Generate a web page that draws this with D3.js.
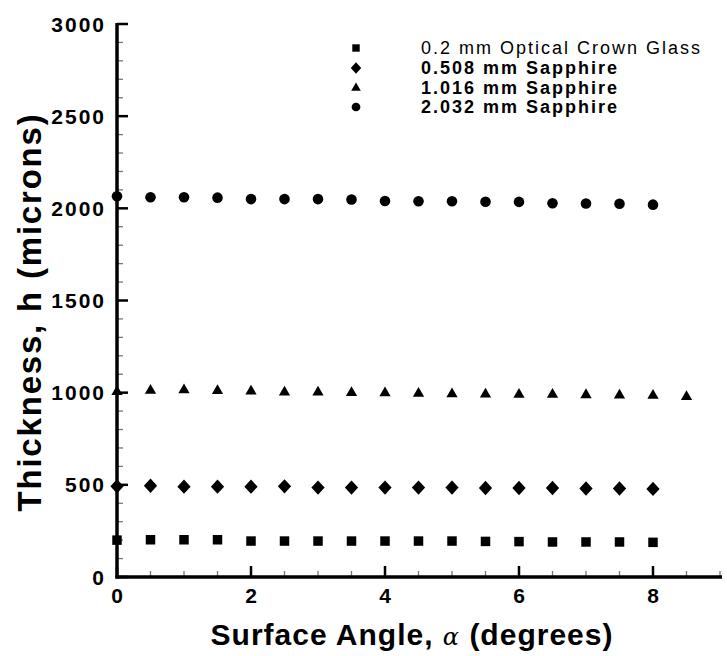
<!DOCTYPE html>
<html>
<head>
<meta charset="utf-8">
<script src="https://cdn.jsdelivr.net/npm/d3@7"></script>
<style>
  html, body { margin: 0; padding: 0; background: #fff; }
  svg { display: block; }
  text { font-family: "Liberation Sans", Arial, Helvetica, sans-serif; fill: #000; }
</style>
</head>
<body>
<svg id="chart" width="727" height="656"></svg>
<script>
// ---------- data ----------
const angles = [0, 0.5, 1, 1.5, 2, 2.5, 3, 3.5, 4, 4.5, 5, 5.5, 6, 6.5, 7, 7.5, 8];
const anglesTri = [0, 0.5, 1, 1.5, 2, 2.5, 3, 3.5, 4, 4.5, 5, 5.5, 6, 6.5, 7, 7.5, 8, 8.5];
const glass02 = [200, 202, 202, 202, 195, 195, 195, 195, 195, 195, 195, 193, 192, 190, 190, 190, 188];
const sapphire0508 = [492, 495, 490, 490, 490, 492, 485, 485, 485, 485, 485, 483, 483, 483, 480, 480, 478];
const sapphire1016 = [1005, 1012, 1015, 1010, 1008, 1002, 1002, 1000, 998, 996, 993, 992, 990, 990, 988, 986, 985, 978];
const sapphire2032 = [2065, 2060, 2060, 2058, 2050, 2050, 2050, 2048, 2040, 2038, 2038, 2036, 2035, 2028, 2026, 2025, 2020];
const seriesNames = ["0.2 mm Optical Crown Glass", "0.508 mm Sapphire", "1.016 mm Sapphire", "2.032 mm Sapphire"];
const seriesSymbols = ["square", "diamond", "triangle", "circle"];
const xTickLabels = [0, 2, 4, 6, 8];
const yTickLabels = [0, 500, 1000, 1500, 2000, 2500, 3000];

// ---------- layout ----------
const svg = d3.select("#chart");
const x = d3.scaleLinear().domain([0, 9]).range([117, 720]);
const y = d3.scaleLinear().domain([0, 3000]).range([577, 24]);

// wide diamond symbol (Tecplot style)
const wideDiamond = {
  draw(ctx, size) {
    const r = Math.sqrt(size / 2);
    ctx.moveTo(0, -r * 1.08);
    ctx.lineTo(r, 0);
    ctx.lineTo(0, r * 1.08);
    ctx.lineTo(-r, 0);
    ctx.closePath();
  }
};
const symTypes = { square: d3.symbolSquare, diamond: wideDiamond, triangle: d3.symbolTriangle, circle: d3.symbolCircle };
const plotSizes = { square: 90, diamond: 88, triangle: 55, circle: 88 };
const legendSizes = { square: 55, diamond: 55, triangle: 40, circle: 60 };

// ---------- axes ----------
const g = svg.append("g");

// minor ticks
const yMinor = d3.range(0, 3001, 100).filter(v => v % 500 !== 0);
g.selectAll(".yminor").data(yMinor).enter().append("line")
  .attr("x1", x(0)).attr("x2", x(0) + 6)
  .attr("y1", d => y(d)).attr("y2", d => y(d))
  .attr("stroke", "#777").attr("stroke-width", 1.3);
const xMinor = d3.range(0.5, 9.01, 0.5).filter(v => v % 2 !== 0);
g.selectAll(".xminor").data(xMinor).enter().append("line")
  .attr("x1", d => x(d)).attr("x2", d => x(d))
  .attr("y1", y(0)).attr("y2", y(0) - 6)
  .attr("stroke", "#777").attr("stroke-width", 1.3);

// major ticks
g.selectAll(".ymajor").data(yTickLabels).enter().append("line")
  .attr("x1", x(0)).attr("x2", x(0) + 11)
  .attr("y1", d => y(d)).attr("y2", d => y(d))
  .attr("stroke", "#000").attr("stroke-width", 2.5);
g.selectAll(".xmajor").data(xTickLabels).enter().append("line")
  .attr("x1", d => x(d)).attr("x2", d => x(d))
  .attr("y1", y(0)).attr("y2", y(0) - 11)
  .attr("stroke", "#000").attr("stroke-width", 2.5);

// axis lines
g.append("line").attr("x1", x(0)).attr("x2", x(0)).attr("y1", y(3000) - 1).attr("y2", y(0) + 1.5)
  .attr("stroke", "#000").attr("stroke-width", 3.5);
g.append("line").attr("x1", x(0) - 1.5).attr("x2", x(9) + 2).attr("y1", y(0)).attr("y2", y(0))
  .attr("stroke", "#000").attr("stroke-width", 3.5);

// tick labels
g.selectAll(".ylab").data(yTickLabels).enter().append("text")
  .attr("x", x(0) - 11).attr("y", d => y(d)).attr("dy", "0.36em")
  .attr("text-anchor", "end").attr("font-size", 21).attr("font-weight", "bold")
  .attr("letter-spacing", 2)
  .text(d => d);
g.selectAll(".xlab").data(xTickLabels).enter().append("text")
  .attr("x", d => x(d)).attr("y", y(0) + 26)
  .attr("text-anchor", "middle").attr("font-size", 21).attr("font-weight", "bold")
  .text(d => d);

// axis titles
const xt = svg.append("text")
  .attr("x", 412).attr("y", 645)
  .attr("text-anchor", "middle").attr("font-size", 30).attr("font-weight", "bold")
  .attr("letter-spacing", 1);
xt.append("tspan").text("Surface Angle, ");
xt.append("tspan").attr("font-weight", "normal").attr("font-style", "italic")
  .attr("font-family", "DejaVu Serif, serif").attr("font-size", 24).text("α");
xt.append("tspan").text(" (degrees)");

svg.append("text")
  .attr("transform", "translate(41,312) rotate(-90)")
  .attr("text-anchor", "middle").attr("font-size", 33).attr("font-weight", "bold")
  .attr("letter-spacing", 1.8)
  .text("Thickness, h (microns)");

// ---------- data marks ----------
const allSeries = [
  { xs: angles, ys: glass02 },
  { xs: angles, ys: sapphire0508 },
  { xs: anglesTri, ys: sapphire1016 },
  { xs: angles, ys: sapphire2032 }
];
allSeries.forEach((s, i) => {
  const sym = seriesSymbols[i];
  const pts = s.xs.map((a, j) => [a, s.ys[j]]);
  svg.append("g").selectAll("path").data(pts).enter().append("path")
    .attr("d", d3.symbol().type(symTypes[sym]).size(plotSizes[sym])())
    .attr("transform", d => `translate(${x(d[0])},${y(d[1])})`)
    .attr("fill", "#000");
});

// ---------- legend ----------
const legendY = [48, 68, 88, 107];
const lg = svg.append("g");
seriesNames.forEach((name, i) => {
  const sym = seriesSymbols[i];
  lg.append("path")
    .attr("d", d3.symbol().type(symTypes[sym]).size(legendSizes[sym])())
    .attr("transform", `translate(356,${legendY[i]})`)
    .attr("fill", "#000");
  lg.append("text")
    .attr("x", 421).attr("y", legendY[i]).attr("dy", "0.36em")
    .attr("font-size", 18).attr("letter-spacing", 2)
    .attr("font-weight", i === 0 ? "normal" : "bold")
    .text(name);
});
</script>
</body>
</html>
